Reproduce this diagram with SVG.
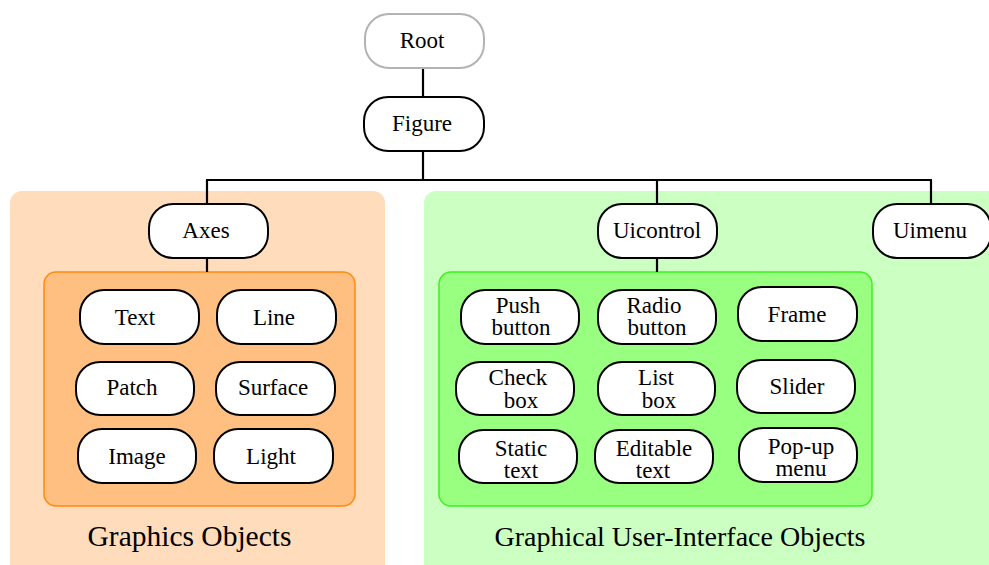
<svg xmlns="http://www.w3.org/2000/svg" width="989" height="565" viewBox="0 0 989 565">
  <style>
    .node rect { fill: #ffffff; stroke: #000000; stroke-width: 2; }
    .root rect { stroke: #b3b3b3; }
    text { font-family: "Liberation Serif", "Times New Roman", serif; font-size: 23px; fill: #000000; text-anchor: middle; }
    .caption { font-size: 28px; }
    .conn line { stroke: #000000; stroke-width: 2.2; fill: none; }
  </style>

  <!-- group panels -->
  <g id="panel-graphics">
    <rect x="10" y="191" width="375" height="390" rx="12" fill="#ffdcbc"/>
    <rect x="44" y="272" width="311" height="234" rx="12" fill="#ffbf80" stroke="#ff8a10" stroke-width="1.5"/>
    <text class="caption" x="189.5" y="546" style="font-size:29.5px">Graphics Objects</text>
  </g>
  <g id="panel-gui">
    <rect x="424" y="191" width="590" height="390" rx="12" fill="#ccffc2"/>
    <rect x="439" y="272" width="433" height="234" rx="12" fill="#99ff80" stroke="#3ef020" stroke-width="1.5"/>
    <text class="caption" x="680" y="546">Graphical User-Interface Objects</text>
  </g>

  <!-- connectors -->
  <g id="connectors" class="conn">
    <line x1="423" y1="68" x2="423" y2="97"/>
    <line x1="423" y1="151" x2="423" y2="180"/>
    <line x1="206" y1="180" x2="932" y2="180"/>
    <line x1="207" y1="180" x2="207" y2="204"/>
    <line x1="657" y1="180" x2="657" y2="204"/>
    <line x1="931" y1="180" x2="931" y2="204"/>
    <line x1="207" y1="258" x2="207" y2="272"/>
    <line x1="657" y1="258" x2="657" y2="272"/>
  </g>

  <!-- hierarchy nodes -->
  <g id="root" class="node root">
    <rect x="365" y="14" width="119" height="54" rx="24"/>
    <text x="422" y="48">Root</text>
  </g>
  <g id="figure" class="node">
    <rect x="364" y="97" width="120" height="54" rx="24"/>
    <text x="422" y="131">Figure</text>
  </g>
  <g id="axes" class="node">
    <rect x="149" y="204" width="119" height="54" rx="24"/>
    <text x="206" y="238">Axes</text>
  </g>
  <g id="uicontrol" class="node">
    <rect x="598" y="204" width="119" height="54" rx="24"/>
    <text x="657" y="238">Uicontrol</text>
  </g>
  <g id="uimenu" class="node">
    <rect x="873" y="204" width="118" height="54" rx="24"/>
    <text x="930" y="238">Uimenu</text>
  </g>

  <!-- graphics objects -->
  <g id="text" class="node">
    <rect x="80" y="290" width="119" height="54" rx="24"/>
    <text x="135" y="325">Text</text>
  </g>
  <g id="line" class="node">
    <rect x="217" y="290" width="119" height="54" rx="24"/>
    <text x="274" y="325">Line</text>
  </g>
  <g id="patch" class="node">
    <rect x="76" y="362" width="118" height="53" rx="24"/>
    <text x="132" y="395">Patch</text>
  </g>
  <g id="surface" class="node">
    <rect x="216" y="362" width="119" height="53" rx="24"/>
    <text x="273" y="395">Surface</text>
  </g>
  <g id="image" class="node">
    <rect x="78" y="429" width="118" height="54" rx="24"/>
    <text x="137" y="464">Image</text>
  </g>
  <g id="light" class="node">
    <rect x="214" y="429" width="119" height="54" rx="24"/>
    <text x="271" y="464">Light</text>
  </g>

  <!-- uicontrol styles -->
  <g id="push-button" class="node">
    <rect x="461" y="290" width="118" height="54" rx="24"/>
    <text x="518" y="313">Push</text>
    <text x="521" y="335">button</text>
  </g>
  <g id="radio-button" class="node">
    <rect x="598" y="290" width="118" height="54" rx="24"/>
    <text x="654" y="313">Radio</text>
    <text x="657" y="335">button</text>
  </g>
  <g id="frame" class="node">
    <rect x="738" y="287" width="119" height="54" rx="24"/>
    <text x="797" y="322">Frame</text>
  </g>
  <g id="check-box" class="node">
    <rect x="456" y="362" width="118" height="53" rx="24"/>
    <text x="518" y="385">Check</text>
    <text x="521" y="408">box</text>
  </g>
  <g id="list-box" class="node">
    <rect x="598" y="362" width="117" height="53" rx="24"/>
    <text x="656" y="385">List</text>
    <text x="659" y="408">box</text>
  </g>
  <g id="slider" class="node">
    <rect x="737" y="360" width="118" height="53" rx="24"/>
    <text x="797" y="394">Slider</text>
  </g>
  <g id="static-text" class="node">
    <rect x="459" y="430" width="118" height="53" rx="24"/>
    <text x="521" y="456">Static</text>
    <text x="521" y="478">text</text>
  </g>
  <g id="editable-text" class="node">
    <rect x="595" y="430" width="118" height="53" rx="24"/>
    <text x="654" y="456">Editable</text>
    <text x="653" y="478">text</text>
  </g>
  <g id="popup-menu" class="node">
    <rect x="739" y="428" width="118" height="54" rx="24"/>
    <text x="801" y="454">Pop-up</text>
    <text x="801" y="476">menu</text>
  </g>
</svg>
